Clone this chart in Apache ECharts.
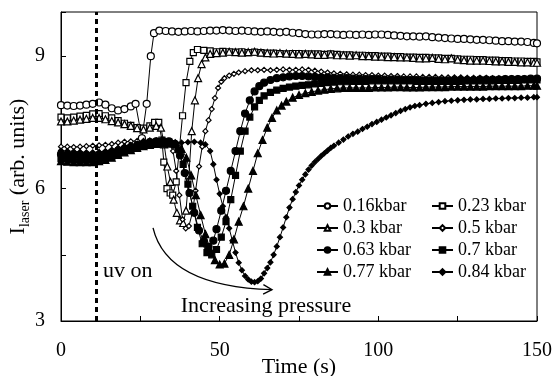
<!DOCTYPE html>
<html>
<head>
<meta charset="utf-8">
<script src="https://cdn.jsdelivr.net/npm/echarts@6/dist/echarts.min.js"></script>
<style>
html,body{margin:0;padding:0;background:#fff;}
#c{width:552px;height:376px;}
</style>
</head>
<body>
<div id="c"></div>
<script>
// ---- data: [time (s), I_laser (arb. units)] ----
const seriesNames = ['0.16kbar','0.23 kbar','0.3 kbar','0.5 kbar','0.63 kbar','0.7 kbar','0.77 kbar','0.84 kbar'];

const s016 = [[0,7.89],[2,7.88],[4,7.87],[6,7.88],[8,7.9],[10,7.92],[12,7.95],[14,7.9],[16,7.82],[18,7.77],[20,7.8],[22,7.86],[23.5,7.92],[25.5,7.14],[27,7.92],[28.3,9.0],[29.3,9.52],[31,9.58],[33,9.57],[35,9.56],[37,9.55],[39,9.56],[41,9.57],[43,9.56],[45,9.57],[47,9.58],[49,9.58],[51,9.59],[53,9.58],[55,9.57],[57,9.58],[59,9.57],[61,9.56],[63,9.55],[65,9.56],[67,9.55],[69,9.54],[71,9.55],[73,9.53],[75,9.52],[77,9.5],[79,9.49],[81,9.49],[83,9.5],[85,9.5],[87,9.49],[89,9.48],[91,9.49],[93,9.48],[95,9.49],[97,9.48],[99,9.49],[101,9.49],[103,9.48],[105,9.47],[107,9.46],[109,9.45],[111,9.45],[113,9.44],[115,9.45],[117,9.43],[119,9.42],[121,9.41],[123,9.4],[125,9.39],[127,9.39],[129,9.38],[131,9.37],[133,9.37],[135,9.36],[137,9.35],[139,9.34],[141,9.34],[143,9.33],[145,9.33],[147,9.32],[149,9.3],[150,9.29]];

const s023 = [[0,7.62],[2,7.6],[4,7.62],[6,7.64],[8,7.66],[10,7.69],[12,7.7],[14,7.65],[16,7.6],[18,7.54],[20,7.48],[22,7.43],[24,7.38],[26,7.37],[28,7.42],[29.5,7.5],[30.8,7.5],[31.8,7.1],[32.4,6.6],[33.4,6.0],[34.4,5.9],[35.2,5.85],[36.3,6.15],[37.3,6.9],[38.3,7.65],[39.4,8.4],[40.6,8.88],[41.7,9.08],[43,9.15],[45,9.13],[47,9.12],[49,9.1],[51,9.11],[53,9.1],[55,9.09],[57,9.1],[59,9.08],[61,9.09],[63,9.08],[65,9.07],[67,9.07],[69,9.06],[71,9.05],[73,9.06],[75,9.06],[77,9.05],[79,9.05],[81,9.05],[83,9.04],[85,9.05],[87,9.04],[89,9.03],[91,9.03],[93,9.02],[95,9.02],[97,9.01],[99,9.01],[101,9.0],[103,9.0],[105,8.99],[107,8.99],[109,8.98],[111,8.98],[113,8.97],[115,8.97],[117,8.96],[119,8.96],[121,8.95],[123,8.95],[125,8.94],[127,8.93],[129,8.93],[131,8.92],[133,8.92],[135,8.91],[137,8.91],[139,8.9],[141,8.9],[143,8.89],[145,8.89],[147,8.88],[149,8.88],[150,8.87]];

const s030 = [[0,7.52],[2,7.52],[4,7.54],[6,7.56],[8,7.58],[10,7.6],[12,7.6],[14,7.57],[16,7.53],[18,7.5],[20,7.46],[22,7.42],[24,7.37],[26,7.34],[28,7.38],[30,7.42],[31.5,7.38],[32.5,7.0],[33.5,6.5],[34.5,6.15],[35.5,5.75],[36.5,5.45],[37.5,5.28],[38.5,5.22],[39.4,5.5],[40.3,6.3],[41.2,7.3],[42.2,8.0],[43.2,8.5],[44.3,8.82],[45.5,8.97],[47,9.05],[49,9.07],[51,9.08],[53,9.1],[55,9.09],[57,9.08],[59,9.09],[61,9.1],[63,9.08],[65,9.07],[67,9.06],[69,9.07],[71,9.06],[73,9.05],[75,9.04],[77,9.05],[79,9.04],[81,9.03],[83,9.03],[85,9.04],[87,9.02],[89,9.02],[91,9.01],[93,9.02],[95,9.0],[97,9.0],[99,8.99],[101,8.99],[103,8.98],[105,8.98],[107,8.97],[109,8.97],[111,8.96],[113,8.95],[115,8.95],[117,8.96],[119,8.94],[121,8.93],[123,8.95],[125,8.92],[127,8.91],[129,8.9],[131,8.9],[133,8.9],[135,8.89],[137,8.88],[139,8.88],[141,8.87],[143,8.87],[145,8.86],[147,8.86],[149,8.85],[150,8.85]];

const s050 = [[0,6.95],[2,6.95],[4,6.94],[6,6.95],[8,6.96],[10,6.97],[12,6.98],[14,6.99],[16,7.01],[18,7.04],[20,7.06],[22,7.07],[24,7.08],[26,7.08],[28,7.09],[30,7.09],[32,7.08],[34,7.05],[35.3,6.85],[36.3,6.4],[37.3,5.85],[38.3,5.3],[39.3,5.1],[40.3,5.15],[41.4,5.45],[42.4,5.95],[43.5,6.5],[44.5,6.95],[45.5,7.3],[46.5,7.55],[47.5,7.8],[48.5,8.05],[49.5,8.28],[50.5,8.42],[51.5,8.5],[53,8.56],[54.5,8.6],[56,8.63],[58,8.66],[60,8.68],[62,8.68],[64,8.69],[66,8.68],[68,8.69],[70,8.7],[72,8.69],[74,8.69],[76,8.7],[78,8.69],[80,8.67],[82,8.65],[84,8.63],[86,8.61],[88,8.6],[90,8.59],[92,8.58],[94,8.58],[96,8.57],[98,8.57],[100,8.56],[102,8.56],[104,8.55],[106,8.55],[108,8.54],[110,8.54],[112,8.54],[114,8.53],[116,8.53],[118,8.53],[120,8.52],[122,8.52],[124,8.52],[126,8.52],[128,8.51],[130,8.51],[132,8.51],[134,8.51],[136,8.5],[138,8.5],[140,8.5],[142,8.5],[144,8.5],[146,8.5],[148,8.49],[150,8.49]];

const s063 = [[0,6.78],[2,6.77],[4,6.76],[6,6.76],[8,6.75],[10,6.74],[12,6.75],[14,6.78],[16,6.82],[18,6.86],[20,6.9],[22,6.94],[24,6.98],[26,7.02],[28,7.05],[30,7.07],[32,7.08],[34,7.07],[36,7.0],[37.5,6.75],[39,6.35],[40.5,5.9],[42,5.45],[43.5,5.05],[45,4.8],[46.5,4.68],[48,4.82],[49,5.08],[50.5,5.5],[52,5.95],[53.5,6.4],[55,6.85],[56.5,7.3],[58,7.7],[59.5,8.0],[61,8.2],[62.5,8.32],[64,8.4],[66,8.46],[68,8.5],[70,8.52],[72,8.54],[74,8.55],[76,8.55],[78,8.54],[80,8.53],[82,8.52],[84,8.52],[86,8.51],[88,8.5],[90,8.5],[92,8.49],[94,8.49],[96,8.48],[98,8.48],[100,8.48],[102,8.47],[104,8.47],[106,8.47],[108,8.46],[110,8.46],[112,8.46],[114,8.45],[116,8.45],[118,8.45],[120,8.45],[122,8.45],[124,8.46],[126,8.46],[128,8.46],[130,8.46],[132,8.47],[134,8.47],[136,8.47],[138,8.47],[140,8.48],[142,8.48],[144,8.48],[146,8.48],[148,8.49],[150,8.49]];

const s070 = [[0,6.68],[2,6.67],[4,6.66],[6,6.66],[8,6.65],[10,6.65],[12,6.66],[14,6.69],[16,6.73],[18,6.78],[20,6.83],[22,6.88],[24,6.92],[26,6.96],[28,7.0],[30,7.03],[32,7.05],[34,7.05],[35.5,7.02],[37,6.88],[38.5,6.55],[40,6.1],[41.5,5.6],[43,5.12],[44.5,4.75],[46,4.55],[47.5,4.5],[49,4.62],[50.5,4.9],[52,5.25],[53.5,5.75],[55,6.3],[56.5,6.85],[58,7.3],[59.5,7.62],[61,7.85],[62.5,8.0],[64,8.1],[66,8.18],[68,8.23],[70,8.27],[72,8.3],[74,8.32],[76,8.34],[78,8.35],[80,8.37],[82,8.38],[84,8.4],[86,8.41],[88,8.42],[90,8.42],[92,8.43],[94,8.43],[96,8.43],[98,8.44],[100,8.44],[102,8.44],[104,8.44],[106,8.44],[108,8.44],[110,8.44],[112,8.43],[114,8.43],[116,8.43],[118,8.43],[120,8.43],[122,8.43],[124,8.43],[126,8.43],[128,8.44],[130,8.44],[132,8.44],[134,8.44],[136,8.44],[138,8.45],[140,8.45],[142,8.45],[144,8.45],[146,8.46],[148,8.46],[150,8.46]];

const s077 = [[0,6.62],[2,6.61],[4,6.6],[6,6.6],[8,6.6],[10,6.6],[12,6.62],[14,6.65],[16,6.7],[18,6.76],[20,6.82],[22,6.87],[24,6.92],[26,6.96],[28,6.99],[30,7.01],[32,7.02],[34,7.02],[36,7.0],[38,6.9],[39.5,6.7],[41,6.3],[42.5,5.85],[44,5.4],[45.5,4.97],[47,4.62],[48.5,4.38],[50,4.28],[51.5,4.3],[53,4.5],[54.5,4.85],[56,5.25],[57.5,5.6],[59,6.0],[60.5,6.4],[62,6.8],[63.5,7.1],[65,7.38],[66.5,7.6],[68,7.77],[69.5,7.88],[71,7.97],[73,8.06],[75,8.12],[77,8.16],[79,8.19],[81,8.22],[83,8.24],[85,8.26],[87,8.27],[89,8.28],[91,8.28],[93,8.28],[95,8.28],[97,8.28],[99,8.29],[101,8.29],[103,8.29],[105,8.3],[107,8.3],[109,8.29],[111,8.29],[113,8.29],[115,8.3],[117,8.3],[119,8.3],[121,8.3],[123,8.31],[125,8.31],[127,8.31],[129,8.31],[131,8.31],[133,8.31],[135,8.32],[137,8.32],[139,8.32],[141,8.32],[143,8.32],[145,8.32],[147,8.33],[149,8.33],[150,8.33]];

const s084 = [[0,6.86],[2,6.85],[4,6.84],[6,6.83],[8,6.82],[10,6.82],[12,6.83],[14,6.85],[16,6.88],[18,6.92],[20,6.96],[22,6.99],[24,7.02],[26,7.05],[28,7.07],[30,7.08],[32,7.08],[34,7.07],[36,7.05],[38,7.04],[40,7.05],[42,7.06],[44,7.04],[45.5,7.0],[47,6.85],[48,6.55],[49,6.2],[50,5.88],[51,5.6],[52,5.35],[53,5.1],[54,4.82],[55,4.55],[56,4.32],[57,4.15],[58,4.02],[59,3.94],[60,3.89],[61,3.88],[62,3.9],[63,3.96],[64,4.08],[65,4.2],[66,4.33],[67,4.5],[68,4.69],[69,4.9],[70,5.12],[71,5.35],[72,5.57],[73,5.76],[74,5.92],[75,6.07],[76,6.2],[77,6.32],[78,6.43],[79,6.52],[80,6.6],[81,6.67],[82,6.74],[83,6.8],[84,6.86],[85,6.92],[86,6.97],[87.5,7.04],[89,7.11],[90.5,7.18],[92,7.24],[93.5,7.29],[95,7.35],[96.5,7.4],[98,7.46],[99.5,7.51],[101,7.56],[102.5,7.61],[104,7.66],[105.5,7.71],[107,7.76],[108.5,7.8],[110,7.84],[111.5,7.87],[113,7.89],[115,7.92],[117,7.94],[119,7.96],[121,7.98],[123,7.99],[125,8.0],[127,8.01],[129,8.02],[131,8.02],[133,8.03],[135,8.03],[137,8.04],[139,8.04],[141,8.05],[143,8.05],[145,8.06],[147,8.06],[149,8.07],[150,8.07]];

const seriesData = [s016, s023, s030, s050, s063, s070, s077, s084];

// annotations (data coordinates)
const uvOnTime = 11;
const uvOnLabel = { text: 'uv on', at: [13.2, 4.12] };
const pressureLabel = { text: 'Increasing pressure', at: [64.6, 3.33] };
const arrowCurve = [[29, 5.11], [33.4, 3.78], [66.5, 3.71]];

// ---- styling ----
const FONT = "'Liberation Serif', 'DejaVu Serif', serif";
const markerStyles = [
  { symbol: 'circle',   size: 7, fill: '#fff' },
  { symbol: 'rect',     size: 6, fill: '#fff' },
  { symbol: 'triangle', size: 7, fill: '#fff' },
  { symbol: 'diamond',  size: 5, fill: '#fff' },
  { symbol: 'circle',   size: 7, fill: '#000' },
  { symbol: 'rect',     size: 6, fill: '#000' },
  { symbol: 'triangle', size: 7, fill: '#000' },
  { symbol: 'diamond',  size: 5, fill: '#000' }
];

const chart = echarts.init(document.getElementById('c'), null, { renderer: 'canvas' });

const series = seriesNames.map((name, i) => ({
  type: 'line',
  name: name,
  data: seriesData[i],
  symbol: markerStyles[i].symbol,
  symbolSize: markerStyles[i].size,
  showSymbol: true,
  showAllSymbol: true,
  animation: false,
  lineStyle: { color: '#000', width: 1 },
  itemStyle: { color: markerStyles[i].fill, borderColor: '#000', borderWidth: 1.2 },
  emphasis: { disabled: true },
  z: 2
}));

series[0].markLine = {
  symbol: 'none',
  silent: true,
  animation: false,
  label: { show: false },
  lineStyle: { color: '#000', width: 3, type: [5, 4] },
  data: [{ xAxis: uvOnTime }]
};

const legendCommon = {
  orient: 'vertical',
  top: 196,
  padding: 0,
  itemWidth: 21,
  itemHeight: 7,
  itemGap: 2,
  selectedMode: false,
  textStyle: { fontFamily: FONT, fontSize: 18, lineHeight: 20, color: '#000' }
};

chart.setOption({
  backgroundColor: '#fff',
  animation: false,
  grid: { left: 61, right: 15, top: 12, bottom: 55, containLabel: false, outerBoundsMode: 'none',
          show: true, borderColor: '#000', borderWidth: 1, backgroundColor: 'transparent' },
  legend: [
    Object.assign({ left: 316, data: [seriesNames[0], seriesNames[2], seriesNames[4], seriesNames[6]] }, legendCommon),
    Object.assign({ left: 431, data: [seriesNames[1], seriesNames[3], seriesNames[5], seriesNames[7]] }, legendCommon)
  ],
  xAxis: {
    type: 'value', min: 0, max: 150, interval: 25,
    axisLine: { lineStyle: { color: '#000', width: 1 } },
    axisTick: { inside: true, length: 5, lineStyle: { color: '#000' } },
    axisLabel: { color: '#000', fontFamily: FONT, fontSize: 20, margin: 20,
      formatter: v => (v % 50 === 0 ? String(v) : '') },
    splitLine: { show: false },
    name: 'Time (s)', nameLocation: 'middle', nameGap: 35, nameMoveOverlap: false,
    nameTextStyle: { color: '#000', fontFamily: FONT, fontSize: 22 }
  },
  yAxis: {
    type: 'value', min: 3, max: 10, interval: 1.5,
    axisLine: { show: true, lineStyle: { color: '#000', width: 1 } },
    axisTick: { show: true, inside: true, length: 5, lineStyle: { color: '#000' } },
    axisLabel: { color: '#000', fontFamily: FONT, fontSize: 20, margin: 16,
      formatter: v => ((v === 3 || v === 6 || v === 9) ? String(v) : '') },
    splitLine: { show: false },
    name: '{a|I}{b|laser}{a| (arb. units)}', nameLocation: 'middle', nameGap: 29, nameMoveOverlap: false,
    nameTextStyle: {
      color: '#000', fontFamily: FONT, fontSize: 22,
      rich: {
        a: { fontFamily: FONT, fontSize: 22, lineHeight: 28, color: '#000' },
        b: { fontFamily: FONT, fontSize: 14, lineHeight: 14, verticalAlign: 'bottom', color: '#000' }
      }
    }
  },
  series: series
});

// annotation graphics positioned through the chart's own scales
function px(pt) { return chart.convertToPixel({ gridIndex: 0 }, pt); }
const a0 = px(arrowCurve[0]), a1 = px(arrowCurve[1]), a2 = px(arrowCurve[2]);
const ang = Math.atan2(a2[1] - a1[1], a2[0] - a1[0]);
const headLen = 10, headAng = 0.5;
const h1 = [a2[0] - headLen * Math.cos(ang - headAng), a2[1] - headLen * Math.sin(ang - headAng)];
const h2 = [a2[0] - headLen * Math.cos(ang + headAng), a2[1] - headLen * Math.sin(ang + headAng)];
const uvP = px(uvOnLabel.at), prP = px(pressureLabel.at);

chart.setOption({
  graphic: [
    { type: 'bezierCurve', silent: true, z: 10,
      shape: { x1: a0[0], y1: a0[1], cpx1: a1[0], cpy1: a1[1], x2: a2[0], y2: a2[1] },
      style: { stroke: '#000', lineWidth: 1.3, fill: null } },
    { type: 'polyline', silent: true, z: 10,
      shape: { points: [h1, a2, h2] },
      style: { stroke: '#000', lineWidth: 1.3, fill: null } },
    { type: 'text', silent: true, z: 10, x: uvP[0], y: uvP[1],
      style: { text: uvOnLabel.text, font: '22px ' + FONT, fill: '#000', align: 'left', verticalAlign: 'middle', textAlign: 'left', textVerticalAlign: 'middle' } },
    { type: 'text', silent: true, z: 10, x: prP[0], y: prP[1],
      style: { text: pressureLabel.text, font: '22px ' + FONT, fill: '#000', align: 'center', verticalAlign: 'middle', textAlign: 'center', textVerticalAlign: 'middle' } }
  ]
});
</script>
</body>
</html>
